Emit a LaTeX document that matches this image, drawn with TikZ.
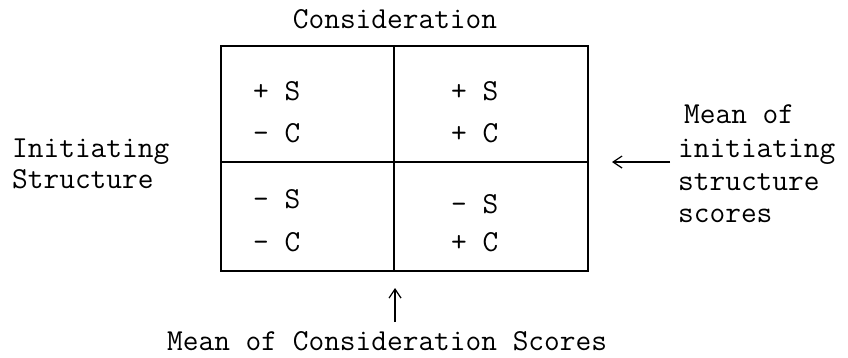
\documentclass[tikz,border=0pt]{standalone}
\usetikzlibrary{arrows.meta}
\begin{document}
\begin{tikzpicture}[x=1pt,y=-1pt,
  lbl/.style={anchor=base west,inner sep=0pt,font=\fontsize{30.5}{33}\selectfont\ttfamily},
  grid/.style={line width=1.4pt},
  pointer/.style={line width=1.2pt,-{Straight Barb[length=9pt,width=12pt]}}]
\useasboundingbox (0,0) rectangle (848,357);
% grid
\draw[grid] (221,46) rectangle (588,271);
\draw[grid] (221,162) -- (588,162);
\draw[grid] (394,46) -- (394,271);
% title
\node[lbl,anchor=base] (cons) at (395,28) {Consideration};
% cells
\node[lbl] (a1) at (253,100) {+ S};
\node[lbl] (a2) at (253,142) {- C};
\node[lbl] (b1) at (451,100) {+ S};
\node[lbl] (b2) at (451,142) {+ C};
\node[lbl] (c1) at (253,208) {- S};
\node[lbl] (c2) at (253,251) {- C};
\node[lbl] (d1) at (451,213) {- S};
\node[lbl] (d2) at (451,251) {+ C};
% left label
\node[lbl] (is1) at (12,157) {Initiating};
\node[lbl] (is2) at (12,188) {Structure};
% right label
\node[lbl] (r1) at (684,123) {Mean of};
\node[lbl] (r2) at (678,157) {initiating};
\node[lbl] (r3) at (678,190) {structure};
\node[lbl] (r4) at (678,222) {scores};
\coordinate (rs) at (670,162);
\coordinate (re) at (612,162);
\draw[pointer] (rs) -- (re);
% bottom label
\node[lbl] (bm) at (167,350) {Mean of Consideration Scores};
\coordinate (us) at (395,322);
\coordinate (ue) at (395,288);
\draw[pointer] (us) -- (ue);
\end{tikzpicture}
\end{document}
